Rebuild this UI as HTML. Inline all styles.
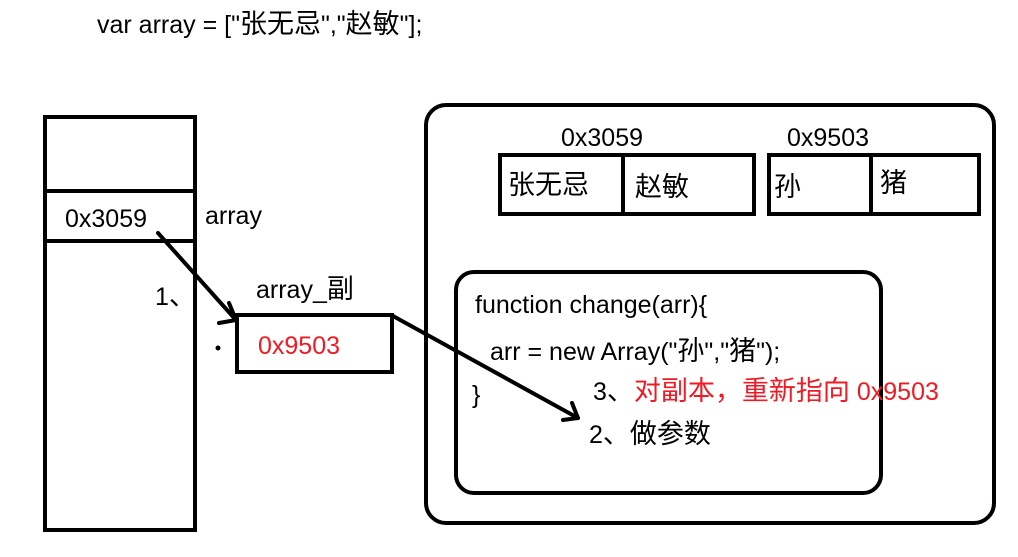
<!DOCTYPE html>
<html><head><meta charset="utf-8"><style>
body{margin:0;width:1018px;height:557px;background:#fff;overflow:hidden;position:relative;font-family:"Liberation Sans","Noto Sans CJK SC",sans-serif;}
.t{position:absolute;font-size:25px;color:#000;white-space:nowrap;line-height:1;}
.c{font-size:27px;}
.r{color:#f01a24;}
</style></head><body>
<svg width="1018" height="557" style="position:absolute;left:0;top:0">
<g fill="none" stroke="#000" stroke-width="4">
<rect x="45" y="117" width="150" height="413"/>
<line x1="45" y1="191" x2="195" y2="191"/>
<line x1="45" y1="241" x2="195" y2="241"/>
<rect x="237" y="315" width="155" height="57"/>
<rect x="426" y="105" width="568" height="418" rx="20"/>
<rect x="456" y="272" width="425" height="221" rx="18"/>
<rect x="500" y="155" width="254" height="59"/>
<line x1="623" y1="155" x2="623" y2="214"/>
<rect x="769" y="155" width="210" height="59"/>
<line x1="871" y1="155" x2="871" y2="214"/>
<path d="M158 233 L236 320 M219 323 L236 320 L229 303" stroke-linecap="round" stroke-linejoin="round"/>
<path d="M393 316 L578 418 M563 420 L578 418 L572 403" stroke-linecap="round" stroke-linejoin="round"/>
</g>
<circle cx="218" cy="348" r="2.5" fill="#000"/>
</svg>
<div class="t" style="left:97px;top:11px">var array = ["<span class="c">张无忌</span>","<span class="c">赵敏</span>"];</div>
<div class="t" style="left:65px;top:207px">0x3059</div>
<div class="t" style="left:205px;top:204px">array</div>
<div class="t" style="left:155px;top:283px">1<span class="c">、</span></div>
<div class="t" style="left:256px;top:276px">array_<span class="c">副</span></div>
<div class="t r" style="left:258px;top:334px">0x9503</div>
<div class="t" style="left:561px;top:126px">0x3059</div>
<div class="t" style="left:787px;top:126px">0x9503</div>
<div class="t c" style="left:508px;top:172px">张无忌</div>
<div class="t c" style="left:635px;top:174px">赵敏</div>
<div class="t c" style="left:774px;top:174px">孙</div>
<div class="t c" style="left:880px;top:170px">猪</div>
<div class="t" style="left:475px;top:293px">function change(arr){</div>
<div class="t" style="left:490px;top:338px">arr = new Array("<span class="c">孙</span>","<span class="c">猪</span>");</div>
<div class="t" style="left:472px;top:383px">}</div>
<div class="t" style="left:593px;top:378px">3<span class="c">、</span><span class="r"><span class="c">对副本，重新指向</span> 0x9503</span></div>
<div class="t" style="left:589px;top:421px">2<span class="c">、做参数</span></div>
</body></html>
